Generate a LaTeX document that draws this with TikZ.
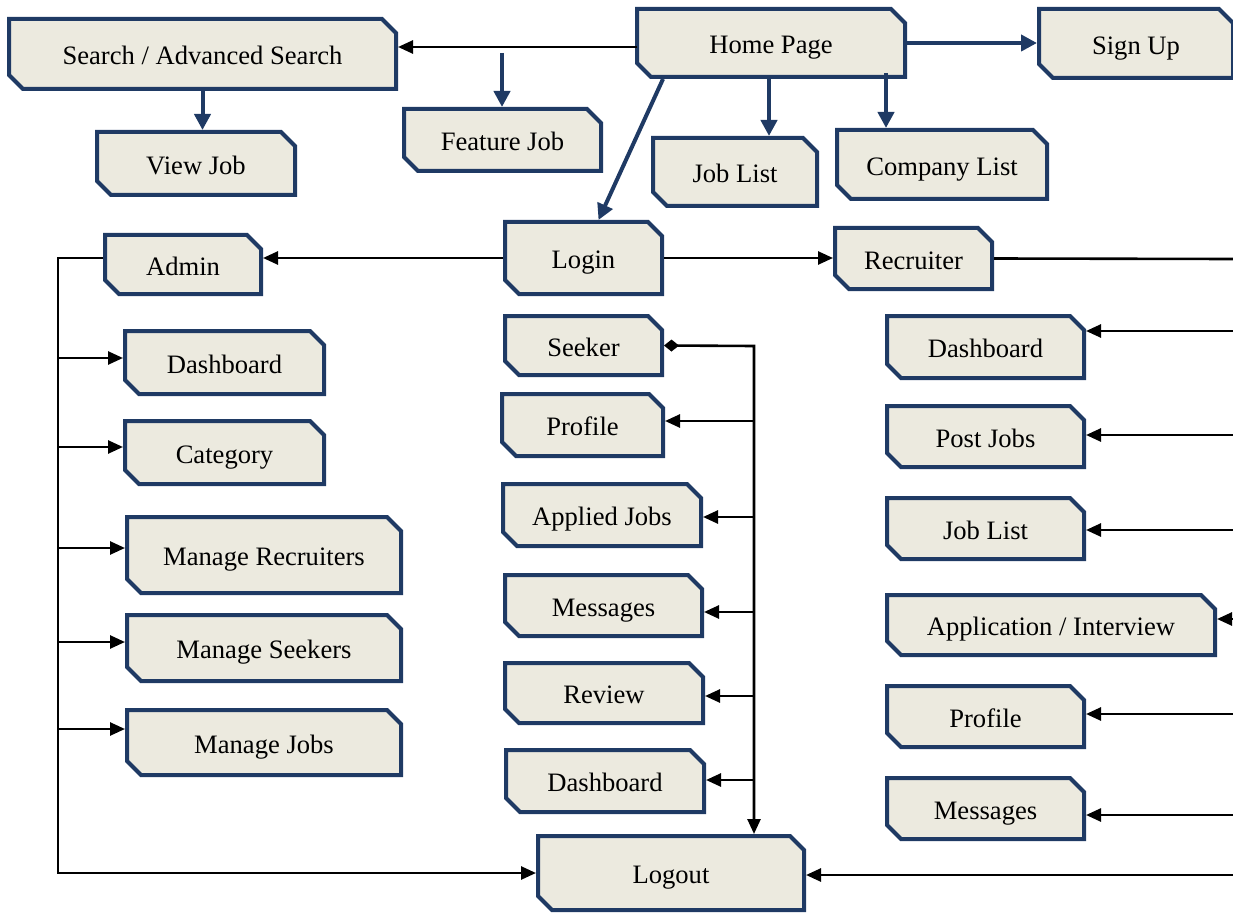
\documentclass[tikz,border=0pt]{standalone}
\usepackage{fontspec}
\setmainfont{Liberation Serif}
\usetikzlibrary{shapes.misc,arrows.meta,calc}
\definecolor{bfill}{HTML}{ECEADF}
\definecolor{bline}{HTML}{1F3A64}
\tikzset{
  cbox/.style={chamfered rectangle,
    chamfered rectangle corners={north east,south west},
    chamfered rectangle sep=7pt,
    draw=bline, line width=4pt, fill=bfill, inner sep=0pt,
    text height=21.5pt, text depth=0pt,
    font=\fontsize{26.6}{30}\selectfont},
  blk/.style={draw=black, line width=2.6pt, -{Triangle[length=15pt,width=13pt]}},
  blkline/.style={draw=black, line width=2.6pt},
  blu/.style={draw=bline, line width=4pt, -{Triangle[length=16pt,width=16pt]}},
}
\newcommand\bx[6]{\node[cbox, minimum width={#4pt-#2pt-4pt}, minimum height={#5pt-#3pt-4pt}] (#1) at ({(#2+#4)/2},{(#3+#5)/2}) {#6};}
\begin{document}
\begin{tikzpicture}[x=1pt,y=-1pt]
\useasboundingbox (0,0) rectangle (1233,917);
% boxes
\bx{search}{7}{17}{398}{91}{Search / Advanced Search}
\bx{hp}{635}{7}{907}{79}{Home Page}
\bx{signup}{1037}{7}{1235}{80}{Sign Up}
\bx{view}{95}{130}{297}{197}{View Job}
\bx{feat}{402}{107}{603}{173}{Feature Job}
\bx{jl}{651}{136}{819}{208}{Job List}
\bx{company}{835}{128}{1049}{201}{Company List}
\bx{login}{503}{220}{664}{296}{Login}
\bx{admin}{103}{233}{263}{296}{Admin}
\bx{recr}{833}{226}{994}{291}{Recruiter}
\bx{adash}{123}{329}{326}{396}{Dashboard}
\bx{cat}{123}{419}{326}{486}{Category}
\bx{mrec}{125}{515}{403}{595}{Manage Recruiters}
\bx{mseek}{125}{613}{403}{683}{Manage Seekers}
\bx{mjobs}{125}{708}{403}{777}{Manage Jobs}
\bx{seeker}{503}{314}{664}{377}{Seeker}
\bx{sprof}{500}{392}{665}{458}{Profile}
\bx{sapp}{501}{482}{703}{548}{Applied Jobs}
\bx{smsg}{503}{573}{704}{638}{Messages}
\bx{srev}{503}{661}{705}{725}{Review}
\bx{sdash}{504}{748}{706}{814}{Dashboard}
\bx{logout}{536}{834}{806}{912}{Logout}
\bx{rdash}{885}{314}{1086}{380}{Dashboard}
\bx{rpost}{885}{404}{1086}{469}{Post Jobs}
\bx{rjl}{885}{496}{1086}{561}{Job List}
\bx{rapp}{885}{593}{1217}{657}{Application / Interview}
\bx{rprof}{885}{684}{1086}{749}{Profile}
\bx{rmsg}{885}{776}{1086}{841}{Messages}
% coordinates
\coordinate (h1) at (637,47);
\coordinate (fj) at (502,53);
\coordinate (cl) at (886,73);
\coordinate (d1) at (663,79);
\coordinate (ab) at (58,258);
\coordinate (ab1) at (58,358);
\coordinate (ab2) at (58,447);
\coordinate (ab3) at (58,548);
\coordinate (ab4) at (58,642);
\coordinate (ab5) at (58,729);
\coordinate (sb) at (754,346);
\coordinate (sb1) at (754,421);
\coordinate (sb2) at (754,517);
\coordinate (sb3) at (754,612);
\coordinate (sb4) at (754,696);
\coordinate (sb5) at (754,780);
\coordinate (rr) at (1233,259);
\coordinate (rb1) at (1233,331);
\coordinate (rb2) at (1233,435);
\coordinate (rb3) at (1233,530);
\coordinate (rb4) at (1233,619);
\coordinate (rb5) at (1233,714);
\coordinate (rb6) at (1233,815);
\coordinate (rb7) at (1233,875);
% top level
\draw[blk] (h1) -- (h1 -| search.east);
\draw[blu] (fj) -- (fj |- feat.north);
\draw[blu] (search.south) -- (search.south |- view.north);
\draw[blu] (hp.east) -- (hp.east -| signup.west);
\draw[blu] ([xshift=-2pt]hp.south) -- ([xshift=-2pt]hp.south |- jl.north);
\draw[blu] (cl) -- (cl |- company.north);
\draw[blu] (d1) -- ([xshift=15pt]login.north);
% login
\draw[blk] (login.west) -- (login.west -| admin.east);
\draw[blk] (login.east) -- (login.east -| recr.west);
% admin
\draw[blk] (ab -| admin.west) -- (ab) |- (logout.west);
\foreach \c/\n in {ab1/adash, ab2/cat, ab3/mrec, ab4/mseek, ab5/mjobs}
  \draw[blk] (\c) -- (\c -| \n.west);
% seeker
\draw[blkline, {Diamond[length=15pt,width=12pt]}-{Triangle[length=15pt,width=13pt]}]
  (seeker.east) -- (sb) -- (sb |- logout.north);
\foreach \c/\n in {sb1/sprof, sb2/sapp, sb3/smsg, sb4/srev, sb5/sdash}
  \draw[blk] (\c) -- (\c -| \n.east);
% recruiter
\draw[blkline] (recr.east) -- (rr);
\foreach \c/\n in {rb1/rdash, rb2/rpost, rb3/rjl, rb4/rapp, rb5/rprof, rb6/rmsg, rb7/logout}
  \draw[blk] (\c) -- (\c -| \n.east);
\end{tikzpicture}
\end{document}
